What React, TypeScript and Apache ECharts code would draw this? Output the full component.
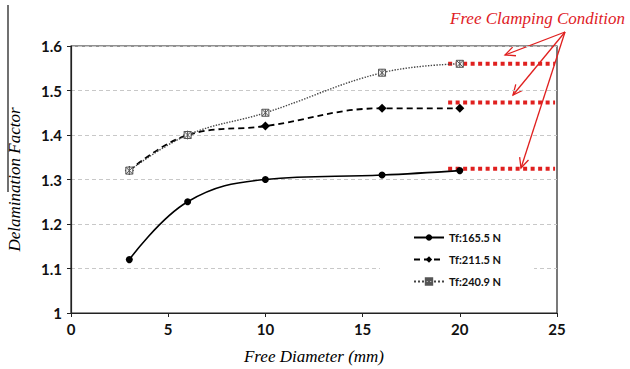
import React, { useEffect, useRef } from "react";
import * as echarts from "echarts";

const xDiameters = [3, 6, 10, 16, 20];
const tf1655 = [1.12, 1.25, 1.3, 1.31, 1.32];
const tf2115 = [1.32, 1.4, 1.42, 1.46, 1.46];
const tf2409 = [1.32, 1.4, 1.45, 1.54, 1.56];
const seriesNames = ["Tf:165.5 N", "Tf:211.5 N", "Tf:240.9 N"];
const clampLevels = [1.324, 1.473, 1.56];
const clampRange = [19.4, 24.9];

const pair = (ys: number[]) => xDiameters.map((x, i) => [x, ys[i]]);

export default function App() {
  const ref = useRef<HTMLDivElement>(null);
  useEffect(() => {
    if (!ref.current) return;
    const chart = echarts.init(ref.current, null, { renderer: "svg" });
    const red = "#e0201f";
    const origin = [565, 32];
    const tips = [
      [505, 55],
      [513, 95],
      [521, 168],
    ];
    const arrows: any[] = [];
    tips.forEach((t) => {
      arrows.push({
        type: "line",
        shape: { x1: origin[0], y1: origin[1], x2: t[0], y2: t[1] },
        style: { stroke: red, lineWidth: 1.3 },
      });
      const dx = t[0] - origin[0];
      const dy = t[1] - origin[1];
      const len = Math.sqrt(dx * dx + dy * dy);
      const ux = dx / len;
      const uy = dy / len;
      const L = 11;
      const a = (25 * Math.PI) / 180;
      const p1 = [
        t[0] - L * (ux * Math.cos(a) - uy * Math.sin(a)),
        t[1] - L * (uy * Math.cos(a) + ux * Math.sin(a)),
      ];
      const p2 = [
        t[0] - L * (ux * Math.cos(a) + uy * Math.sin(a)),
        t[1] - L * (uy * Math.cos(a) - ux * Math.sin(a)),
      ];
      arrows.push({
        type: "polyline",
        shape: { points: [p1, t, p2] },
        style: { stroke: red, lineWidth: 1.3, fill: "none" },
      });
    });

    const tickFont = { fontFamily: "Lato", fontWeight: "bold" as const, fontSize: 15, color: "#111" };

    chart.setOption({
      animation: false,
      grid: {
        left: 71,
        right: 73,
        top: 46,
        bottom: 56,
        containLabel: false,
        outerBoundsMode: "none",
        show: true,
        borderColor: "#222",
        borderWidth: 1.2,
        backgroundColor: "transparent",
      },
      legend: {
        data: seriesNames,
        orient: "vertical",
        left: 380,
        top: 226,
        padding: [6, 33, 6, 33],
        itemWidth: 30,
        itemHeight: 8,
        itemGap: 11,
        backgroundColor: "#fff",
        textStyle: { fontFamily: "Lato", fontWeight: "bold", fontSize: 11, color: "#111" },
      },
      xAxis: {
        type: "value",
        min: 0,
        max: 25,
        interval: 5,
        name: "Free Diameter (mm)",
        nameLocation: "middle",
        nameGap: 35,
        nameMoveOverlap: false,
        nameTextStyle: {
          fontFamily: "Liberation Serif",
          fontStyle: "italic",
          fontSize: 17,
          color: "#000",
        },
        axisLine: { lineStyle: { color: "#222", width: 1.2 } },
        axisTick: { show: true, length: 4, lineStyle: { color: "#222" } },
        axisLabel: { ...tickFont, margin: 8 },
        splitLine: { show: false },
      },
      yAxis: {
        type: "value",
        min: 1,
        max: 1.6,
        interval: 0.1,
        name: "Delamination Factor",
        nameLocation: "middle",
        nameGap: 48,
        nameMoveOverlap: false,
        nameRotate: 90,
        nameTextStyle: {
          fontFamily: "Liberation Serif",
          fontStyle: "italic",
          fontSize: 17,
          color: "#000",
        },
        axisLine: { show: true, lineStyle: { color: "#222", width: 1.2 } },
        axisTick: { show: true, length: 4, lineStyle: { color: "#222" } },
        axisLabel: { ...tickFont, margin: 9 },
        splitLine: { show: true, lineStyle: { color: "#c8c8c8", type: [4, 3], width: 1 } },
      },
      series: [
        ...clampLevels.map((v) => ({
          type: "line",
          name: "clamp",
          silent: true,
          symbol: "none",
          clip: false,
          data: clampRange.map((x) => [x, v]),
          lineStyle: { color: red, width: 4, type: [4, 3.5] },
          z: 1,
        })),
        {
          type: "line",
          name: seriesNames[0],
          data: pair(tf1655),
          smooth: 0.4,
          symbol: "circle",
          symbolSize: 7,
          itemStyle: { color: "#000" },
          lineStyle: { color: "#000", width: 1.6 },
          z: 3,
        },
        {
          type: "line",
          name: seriesNames[1],
          data: pair(tf2115),
          smooth: 0.4,
          symbol: "diamond",
          symbolSize: 9,
          itemStyle: { color: "#000" },
          lineStyle: { color: "#000", width: 1.8, type: [6, 4] },
          z: 3,
        },
        {
          type: "line",
          name: seriesNames[2],
          data: pair(tf2409),
          smooth: 0.4,
          symbol: "path://M0,0L10,0L10,10L0,10Z M0,0L10,10 M10,0L0,10 M5,0L5,10",
          symbolSize: 7,
          itemStyle: { color: "#f2f2f2", borderColor: "#555", borderWidth: 1 },
          lineStyle: { color: "#444", width: 1.4, type: "dotted" },
          z: 3,
        },
      ],
      graphic: [
        {
          type: "text",
          x: 450,
          y: 18,
          style: {
            text: "Free Clamping Condition",
            fill: red,
            fontFamily: "Liberation Serif",
            fontStyle: "italic",
            fontSize: 17,
            verticalAlign: "middle",
            textAlign: "left",
          },
        },
        {
          type: "line",
          shape: { x1: 8, y1: 5, x2: 8, y2: 192 },
          style: { stroke: "#111", lineWidth: 1.2 },
        },
        ...arrows,
      ],
    });
    return () => chart.dispose();
  }, []);
  return (
    <div
      ref={ref}
      style={{ position: "fixed", left: 0, top: 0, width: 630, height: 369, background: "#fff" }}
    />
  );
}
